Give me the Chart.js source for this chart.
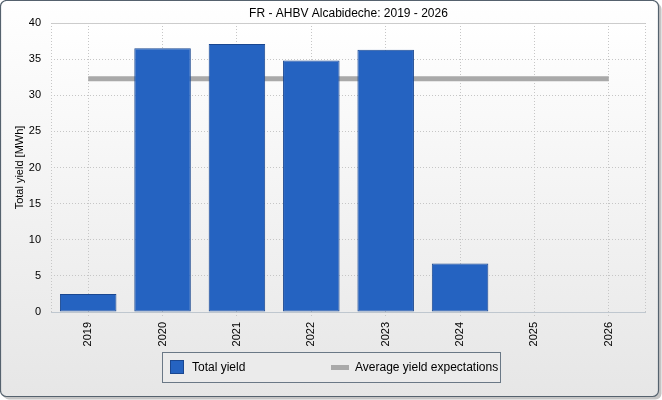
<!DOCTYPE html>
<html lang="en">
<head>
    <meta charset="UTF-8">
    <title>FR - AHBV Alcabideche: 2019 - 2026</title>
    <style>
        html, body { margin: 0; padding: 0; background: #ffffff; }
        #wrap { position: relative; width: 662px; height: 400px; }
    </style>
</head>
<body>
<div id="wrap">
    <canvas id="chartCanvas" width="662" height="400"></canvas>
</div>

<script src="https://cdn.jsdelivr.net/npm/chart.js"></script>
<script>
// Chart data
const chartTitle = 'FR - AHBV Alcabideche: 2019 - 2026';
const years = ['2019', '2020', '2021', '2022', '2023', '2024', '2025', '2026'];
const totalYield = [2.5, 36.5, 37.1, 34.8, 36.3, 6.7, null, null];
const avgExpectation = [32.3, 32.3, 32.3, 32.3, 32.3, 32.3, 32.3, 32.3];
const yTicks = [0, 5, 10, 15, 20, 25, 30, 35, 40];

const FONT = "'Liberation Sans', Arial, sans-serif";
const BAR_FILL = '#2563c1';
const BAR_EDGE = '#1a4790';
const LINE_GREY = '#a9a9a9';
const GRID = '#c6c6c6';

function roundRect(c, x, y, w, h, r) {
    c.beginPath();
    c.moveTo(x + r, y);
    c.lineTo(x + w - r, y);
    c.arcTo(x + w, y, x + w, y + r, r);
    c.lineTo(x + w, y + h - r);
    c.arcTo(x + w, y + h, x + w - r, y + h, r);
    c.lineTo(x + r, y + h);
    c.arcTo(x, y + h, x, y + h - r, r);
    c.lineTo(x, y + r);
    c.arcTo(x, y, x + r, y, r);
    c.closePath();
}

// background frame, plot area, title and boxed legend
const framePlugin = {
    id: 'frame',
    beforeDraw(chart) {
        const c = chart.ctx;
        const W = chart.width, H = chart.height;
        const a = chart.chartArea;
        c.save();
        // shadow
        roundRect(c, 3, 3, W - 3.5, H - 3.5, 6);
        c.fillStyle = '#c4c4c4';
        c.fill();
        // panel
        const g = c.createLinearGradient(0, 0, 0, H);
        g.addColorStop(0, '#ffffff');
        g.addColorStop(1, '#e6e6e6');
        roundRect(c, 0.5, 0.5, W - 4, H - 4, 6);
        c.fillStyle = g;
        c.fill();
        c.lineWidth = 1.2;
        c.strokeStyle = '#55626e';
        c.stroke();
        // plot area
        const pg = c.createLinearGradient(0, a.top, 0, a.bottom);
        pg.addColorStop(0, '#ffffff');
        pg.addColorStop(1, '#ececec');
        c.fillStyle = pg;
        c.fillRect(a.left, a.top, a.right - a.left, a.bottom - a.top);
        c.restore();
    },
    afterDatasetsDraw(chart) {
        const c = chart.ctx;
        const a = chart.chartArea;
        c.save();
        c.lineWidth = 1;
        c.strokeStyle = '#cccccc';
        c.beginPath();
        c.moveTo(a.left, a.top + 0.5);
        c.lineTo(a.right, a.top + 0.5);
        c.stroke();
        c.strokeStyle = GRID;
        c.setLineDash([1, 2]);
        c.beginPath();
        c.moveTo(a.right - 0.5, a.top);
        c.lineTo(a.right - 0.5, a.bottom);
        c.moveTo(a.left + 0.5, a.top);
        c.lineTo(a.left + 0.5, a.bottom);
        c.stroke();
        c.setLineDash([]);
        c.strokeStyle = '#bfc7cf';
        c.beginPath();
        c.moveTo(a.left, a.bottom + 0.5);
        c.lineTo(a.right, a.bottom + 0.5);
        c.stroke();
        c.restore();
    },
    afterDraw(chart) {
        const c = chart.ctx;
        const a = chart.chartArea;
        const sets = chart.data.datasets;
        c.save();
        // title
        c.fillStyle = '#000000';
        c.font = '12px ' + FONT;
        c.textAlign = 'center';
        c.textBaseline = 'middle';
        c.fillText(chartTitle, (a.left + a.right) / 2, 14);

        // legend box
        const lx = 162.5, ly = 352.5, lw = 338, lh = 30;
        c.fillStyle = '#ebebeb';
        c.fillRect(lx, ly, lw, lh);
        c.strokeStyle = '#6a7886';
        c.lineWidth = 1;
        c.strokeRect(lx, ly, lw, lh);

        const my = ly + lh / 2;
        c.fillStyle = sets[0].backgroundColor;
        c.fillRect(170.5, my - 7, 13, 13);
        c.strokeStyle = sets[0].borderColor;
        c.strokeRect(170.5, my - 7, 13, 13);

        c.strokeStyle = sets[1].borderColor;
        c.lineWidth = 5;
        c.beginPath();
        c.moveTo(331, my);
        c.lineTo(349, my);
        c.stroke();

        c.fillStyle = '#000000';
        c.font = '12px ' + FONT;
        c.textAlign = 'left';
        c.fillText(sets[0].label, 192, my);
        c.fillText(sets[1].label, 355, my);
        c.restore();
    }
};

const ctx = document.getElementById('chartCanvas').getContext('2d');

new Chart(ctx, {
    type: 'bar',
    data: {
        labels: years,
        datasets: [
            {
                label: 'Total yield',
                data: totalYield,
                backgroundColor: BAR_FILL,
                borderColor: BAR_EDGE,
                borderWidth: 1,
                borderSkipped: false,
                barPercentage: 0.76,
                categoryPercentage: 1.0,
                order: 0
            },
            {
                label: 'Average yield expectations',
                type: 'line',
                data: avgExpectation,
                borderColor: LINE_GREY,
                backgroundColor: LINE_GREY,
                borderWidth: 5,
                borderCapStyle: 'butt',
                pointRadius: 0,
                pointHoverRadius: 0,
                fill: false,
                tension: 0,
                order: 1
            }
        ]
    },
    options: {
        responsive: false,
        animation: false,
        devicePixelRatio: 1,
        layout: {
            padding: { top: 23, right: 16, left: 0, bottom: 0 }
        },
        plugins: {
            legend: { display: false },
            title: { display: false },
            tooltip: { enabled: false }
        },
        scales: {
            x: {
                offset: true,
                grid: {
                    offset: false,
                    color: GRID,
                    drawTicks: true,
                    tickLength: 6,
                    tickBorderDash: [1, 2],
                    tickColor: GRID
                },
                border: { display: false, dash: [1, 2] },
                ticks: {
                    color: '#000000',
                    font: { family: FONT, size: 11 },
                    minRotation: 90,
                    maxRotation: 90,
                    padding: 4
                },
                afterFit(scale) { scale.height = 88; }
            },
            y: {
                min: 0,
                max: 40,
                afterBuildTicks(scale) {
                    scale.ticks = yTicks.map(v => ({ value: v }));
                },
                grid: {
                    color: GRID,
                    drawTicks: false
                },
                border: { display: false, dash: [1, 2] },
                ticks: {
                    color: '#000000',
                    font: { family: FONT, size: 11 },
                    padding: 10
                },
                title: {
                    display: true,
                    text: 'Total yield [MWh]',
                    color: '#000000',
                    font: { family: FONT, size: 11 },
                    padding: { top: 13, bottom: 0 }
                },
                afterFit(scale) { scale.width = 51; }
            }
        }
    },
    plugins: [framePlugin]
});
</script>
</body>
</html>
